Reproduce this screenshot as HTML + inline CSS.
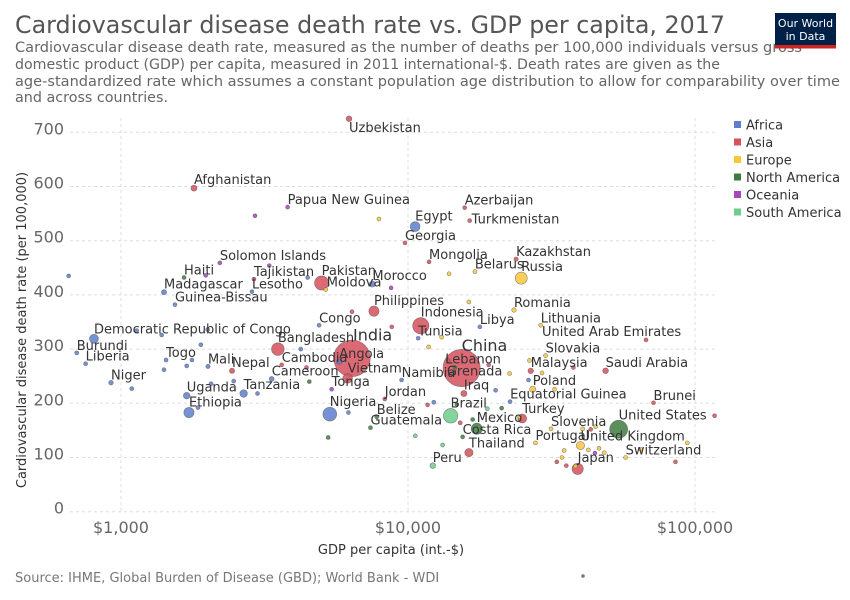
<!DOCTYPE html>
<html><head><meta charset="utf-8"><style>
html,body{margin:0;padding:0;background:#fff;}
svg{display:block;font-family:"DejaVu Sans","Liberation Sans",sans-serif;}
</style></head><body>
<svg id="chart" width="850" height="600" viewBox="0 0 850 600">
<text x="15" y="33" font-size="24" fill="#555" textLength="710" lengthAdjust="spacingAndGlyphs">Cardiovascular disease death rate vs. GDP per capita, 2017</text>
<g font-size="14.5" fill="#666">
<text x="15" y="52" textLength="787" lengthAdjust="spacingAndGlyphs">Cardiovascular disease death rate, measured as the number of deaths per 100,000 individuals versus gross</text>
<text x="15" y="69" textLength="705" lengthAdjust="spacingAndGlyphs">domestic product (GDP) per capita, measured in 2011 international-$. Death rates are given as the</text>
<text x="15" y="86" textLength="825" lengthAdjust="spacingAndGlyphs">age-standardized rate which assumes a constant population age distribution to allow for comparability over time</text>
<text x="15" y="102" textLength="153" lengthAdjust="spacingAndGlyphs">and across countries.</text>
</g>
<g>
<rect x="775" y="13" width="61" height="35" fill="#002147"/>
<rect x="775" y="45" width="61" height="3.5" fill="#ce261e"/>
<text x="805.5" y="27" font-size="11" fill="#fff" text-anchor="middle">Our World</text>
<text x="805.5" y="40" font-size="11" fill="#fff" text-anchor="middle">in Data</text>
</g>
<g id="grid"></g>
<g id="yticks"></g>
<g id="xticks"></g>
<text x="391" y="554" font-size="13" fill="#333" text-anchor="middle">GDP per capita (int.-$)</text>
<text transform="translate(26,330) rotate(-90)" font-size="13" fill="#333" text-anchor="middle">Cardiovascular disease death rate (per 100,000)</text>
<g id="points"></g>
<g id="labels"></g>
<g id="legend"></g>
<text x="15" y="582" font-size="13" fill="#777">Source: IHME, Global Burden of Disease (GBD); World Bank - WDI</text>
<circle cx="583" cy="576" r="1.8" fill="#777"/>
</svg>
<script>
const continents=["Africa","Asia","Europe","North America","Oceania","South America"];
const continentColors=["#5f7fcc","#d6505d","#f7c83c","#3f7b3f","#a645bd","#6fcc8c"];
const yTickValues=[0,100,200,300,400,500,600,700];
const xTickValues=[1000,10000,100000];
const xTickLabels=["$1,000","$10,000","$100,000"];
const countries=["Uzbekistan","Afghanistan","Papua New Guinea","Egypt","Azerbaijan","Turkmenistan","Georgia","Mongolia","Kazakhstan","Belarus","Russia","Solomon Islands","Haiti","Tajikistan","Pakistan","Morocco","Moldova","Madagascar","Lesotho","Guinea-Bissau","Philippines","Romania","Lithuania","Indonesia","Libya","United Arab Emirates","Congo","Tunisia","India","Angola","Democratic Republic of Congo","Burundi","Liberia","Bangladesh","Cambodia","Togo","Mali","Nepal","Cameroon","Vietnam","Tonga","Niger","Uganda","Tanzania","Ethiopia","Nigeria","Belize","Guatemala","Jordan","Namibia","China","Lebanon","Grenada","Iraq","Slovakia","Malaysia","Poland","Saudi Arabia","Brunei","Equatorial Guinea","Turkey","Brazil","Mexico","Slovenia","United States","Costa Rica","Portugal","United Kingdom","Thailand","Switzerland","Japan","Peru"];
const gdp=[6230,1796,3806,10590,15760,16400,9760,11840,23800,17100,24800,2210,1658,2905,5000,7517,5170,1412,2860,1542,7610,23400,29000,11080,17800,67500,4900,10850,6380,5760,805,701,753,3520,3630,1435,2009,2437,3350,6160,5420,923,1694,2675,1725,5340,7780,7400,8300,9500,15380,13810,14560,15660,30160,26770,27200,48800,71700,22680,25000,14080,17360,31500,54200,15500,27800,39900,16300,57300,39000,12200];
const deathRate=[725,597,562,526,561,537,496,461,466,443,431,459,432,429,422,420,410,405,406,382,370,372,344,343,341,317,344,320,283,277,319,293,273,300,271,280,268,260,245,246,226,238,214,218,183,180,175,155,208,243,265,279,266,218,288,260,226,260,201,203,172,177,153,153,152,138,127,122,109,100,79,85];
const population=[32,36,8,97,10,6,4,3,18,9.5,145,0.6,11,9,200,36,4,26,2,2,105,19.6,2.8,264,6.4,9.5,5,11.5,1340,30,81,11,4.7,160,16,7.8,18.5,27.6,24,95,0.1,21,43,57,105,190,0.4,17,10,2.5,1390,6,0.1,38,5.4,31,38,33,0.4,1.3,81,209,125,2,325,5,10,66,69,8.5,127,32];
const continentIndex=[1,1,4,0,1,1,1,1,1,2,2,4,3,1,1,0,2,0,0,0,1,2,2,1,0,1,0,0,1,0,0,0,0,1,1,0,0,1,0,1,4,0,0,0,0,0,3,3,1,0,1,1,3,1,2,1,2,1,1,0,1,5,3,2,3,3,2,2,1,2,1,5];
const extraGdp=[657,1134,1386,2004,1898,1767,1694,1412,1090,2470,2060,2990,1855,6200,4230,4470,1973,3285,2930,7920,6380,8780,8730,16300,13900,13100,11800,10600,12300,11700,18900,14800,15200,13200,20200,26300,19100,22600,26500,32400,29300,37700,44800,45100,35000,34400,35600,38300,33000,48300,46300,42500,40600,43300,64700,94000,85500,117000,21200,16800,24500,4530,5270,4430];
const extraRate=[435,334,326,336,308,280,269,262,227,241,236,218,192,183,300,432,436,454,546,540,369,341,413,387,439,322,304,140,202,197,190,198,164,123,224,243,271,255,279,226,256,266,108,157,113,100,85,84,92,109,117,114,153,152,115,127,92,177,191,170,175,240,137,266];
const extraPopulation=[0.5,5,1,3,10,8,12,1,5,4,2,11,1,0.5,5,10,0.2,0.1,0.1,3,1,1,0.3,0.5,1,1,1,1,10,1,3,0.1,0.5,3,0.5,0.1,4,0.5,0.5,1,0.5,0.5,5,11,10,9,10,8,0.5,1,0.5,1,1,1,0.5,0.5,0.5,0.3,0.3,0.3,0.5,0.3,0.3,1];
const extraContinent=[0,0,0,0,0,0,0,0,0,0,0,0,0,0,0,0,4,4,4,2,1,1,4,2,2,2,2,5,0,1,5,3,1,5,0,0,1,2,2,2,2,1,4,2,2,2,1,2,1,2,2,2,2,1,2,2,1,1,3,3,2,3,3,1];
</script>
<script>
const NS="http://www.w3.org/2000/svg";
const X0=121,PXDEC=287,Y0=511.7,PXUNIT=0.542;
function xScale(v){return X0+(Math.log10(v)-3)*PXDEC;}
function yScale(v){return Y0-v*PXUNIT;}
function rScale(p){return Math.max(2,Math.sqrt(p)*0.5);}
function mk(tag,attrs,parent){const e=document.createElementNS(NS,tag);for(const k in attrs)e.setAttribute(k,attrs[k]);parent.appendChild(e);return e;}
const grid=document.getElementById('grid');
yTickValues.forEach(v=>{
  const l=mk('line',{x1:70,x2:715,y1:yScale(v),y2:yScale(v),stroke:'#ddd','stroke-dasharray':'3,3'},grid);
  
  
  const t=mk('text',{x:64,y:yScale(v)+2,'font-size':16,fill:'#666','text-anchor':'end'},document.getElementById('yticks'));
  t.textContent=v;
  
  
});
xTickValues.forEach((v,i)=>{
  const l=mk('line',{x1:xScale(v),x2:xScale(v),y1:118,y2:512,stroke:'#ddd','stroke-dasharray':'3,3'},grid);
  
  
  const t=mk('text',{x:xScale(v),y:533,'font-size':16,fill:'#666','text-anchor':'middle'},document.getElementById('xticks'));
  t.textContent=xTickLabels[i];
  
  
});
const pts=document.getElementById('points');
const all=[];
extraGdp.forEach((g,i)=>all.push({g:g,r:extraRate[i],p:extraPopulation[i],c:extraContinent[i],n:null}));
countries.forEach((n,i)=>all.push({g:gdp[i],r:deathRate[i],p:population[i],c:continentIndex[i],n:n}));
all.sort((a,b)=>b.p-a.p);
all.forEach(d=>{
  const c=mk('circle',{cx:xScale(d.g),cy:yScale(d.r),r:rScale(d.p),fill:continentColors[d.c],'fill-opacity':0.85,stroke:'#555','stroke-width':0.6,'stroke-opacity':0.7},pts);
  
  
});
const overrides={"Uzbekistan":[0,13],"Turkmenistan":[2,3],"Moldova":[1,-3],"Lebanon":[-3,3],"Grenada":[-8,8],"United Arab Emirates":[-104,-4],"India":[1,-18],"China":[0,-17]};
const lab=document.getElementById('labels');
countries.forEach((n,i)=>{
  const cx=xScale(gdp[i]),cy=yScale(deathRate[i]),r=rScale(population[i]);
  let dx=0,dy=-r-1;
  if(overrides[n]){dx=overrides[n][0];dy=overrides[n][1];}
  const big=(n==="India"||n==="China");
  const t=mk('text',{x:cx+dx,y:cy+dy,'font-size':big?16:13,fill:'#333'},lab);
  t.textContent=n;
  
  
});
const leg=document.getElementById('legend');
continents.forEach((n,i)=>{
  const y=125+i*17.5;
  const s=mk('rect',{x:734,y:y-4,width:7,height:7,fill:continentColors[i]},leg);
  
  
  const t=mk('text',{x:746,y:y+4.5,'font-size':13,fill:'#333'},leg);
  t.textContent=n;
  
  
});
</script>
</body></html>
